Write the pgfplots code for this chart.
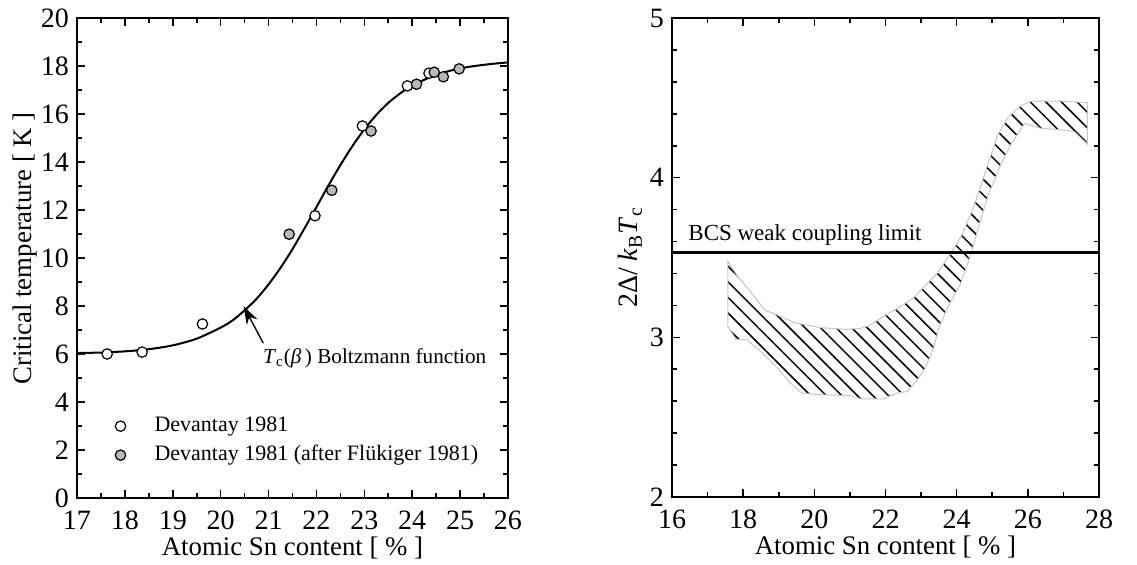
\documentclass[border=0pt]{standalone}
\usepackage{fontspec}
\setmainfont{Liberation Serif}
\usepackage{pgfplots}
\pgfplotsset{compat=1.18}
\usetikzlibrary{patterns.meta, arrows.meta}
\definecolor{mgray}{RGB}{185,185,185}
\begin{document}
\begin{tikzpicture}
\useasboundingbox (-38.5pt,-33.5pt) rectangle (530pt,249pt);
\pgfplotsset{
  myaxis/.style={
    scale only axis,
    tick align=inside,
    major tick length=4pt, minor tick length=2.5pt,
    axis line style={line width=1pt},
    every tick/.style={line width=0.8pt, black},
    /pgf/number format/assume math mode=true,
    tick label style={font=\fontsize{14}{16}\selectfont},
    xticklabel style={yshift=-2.8pt},
    yticklabel style={xshift=-0.5pt},
    label style={font=\fontsize{13.4}{15}\selectfont},
    xlabel style={at={(axis description cs:0.5,-0.104)}, anchor=center},
  }
}
% ---------------- left panel ----------------
\begin{axis}[myaxis,
  at={(0pt,0pt)}, anchor=south west,
  width=215.5pt, height=240pt,
  xmin=17, xmax=26, ymin=0, ymax=20,
  xtick={17,18,...,26}, minor x tick num=1,
  ytick={0,2,...,20}, minor y tick num=1,
  xlabel={Atomic Sn content [ \% ]},
  ylabel={Critical temperature [ K ]},
  ylabel style={at={(axis description cs:-0.12,0.52)}, anchor=center},
  legend style={draw=none, fill=none, at={(axis cs:17.65,3.78)}, anchor=north west,
    font=\fontsize{11}{13}\selectfont,
    nodes={text height=8pt, text depth=2.5pt, inner sep=2pt}},
  legend cell align=left,
  legend image code/.code={\path[draw=none, fill=none] (-3pt,0pt) rectangle (15pt,0pt); \draw[#1] plot coordinates {(0pt,0pt)};},
]
\addplot[black, line width=1pt, smooth, forget plot] coordinates {
(17.0,6.04) (17.5,6.06) (18.0,6.11) (18.5,6.20) (19.0,6.36) (19.5,6.64)
(20.0,7.10) (20.25,7.40) (20.5,7.82) (20.75,8.30) (21.0,8.90) (21.25,9.59)
(21.5,10.37) (21.75,11.23) (22.0,12.12) (22.25,13.02) (22.5,13.87) (22.75,14.66)
(23.0,15.36) (23.25,15.96) (23.5,16.46) (23.75,16.86) (24.0,17.19) (24.5,17.63)
(25.0,17.90) (25.5,18.05) (26.0,18.15)
};
\addplot[only marks, mark=*, mark size=2.6pt, mark options={draw=black, fill=white, line width=0.6pt}] coordinates {
(17.63,6.0) (18.36,6.08) (19.62,7.25) (21.97,11.76) (22.96,15.5) (23.9,17.17) (24.35,17.7)
};
\addlegendentry{Devantay 1981}
\addplot[only marks, mark=*, mark size=2.6pt, mark options={draw=black, fill=mgray, line width=0.6pt}] coordinates {
(21.43,10.99) (22.32,12.82) (23.14,15.29) (24.09,17.24) (24.46,17.74) (24.65,17.55) (24.98,17.88)
};
\addlegendentry{Devantay 1981 (after Flükiger 1981)}
\draw[-{Stealth[length=9pt,width=6pt]}, line width=0.7pt] (axis cs:20.89,6.45) -- (axis cs:20.48,7.99);
\node[anchor=west, font=\fontsize{10.6}{12}\selectfont, inner sep=0pt] at (axis cs:20.88,5.83)
  {\textit{T}\textsubscript{c}(\textit{β}\,) Boltzmann function};
\end{axis}
% ---------------- right panel ----------------
\begin{axis}[myaxis,
  at={(297.5pt,0.5pt)}, anchor=south west,
  width=213.5pt, height=239.5pt,
  xmin=16, xmax=28, ymin=2, ymax=5,
  xtick={16,18,...,28}, minor x tick num=1,
  ytick={2,3,4,5}, minor y tick num=4,
  xlabel={Atomic Sn content [ \% ]},
  ylabel={2Δ/ \textit{k}\textsubscript{B}\textit{T}\textsubscript{c}},
  ylabel style={at={(axis description cs:-0.098,0.5)}, anchor=center, font=\fontsize{14}{16}\selectfont},
]
\addplot[draw=gray!45, line width=0.5pt, pattern={Lines[angle=-45,distance=5.5pt,line width=0.75pt]}] coordinates {
(17.57,3.475) (17.85,3.38) (18.08,3.32) (18.37,3.24) (18.6,3.17) (18.85,3.15)
(19.47,3.09) (20.2,3.06) (20.9,3.05) (21.3,3.055) (21.6,3.08) (21.93,3.13)
(22.4,3.19) (22.8,3.25) (23.1,3.32) (23.45,3.40) (23.75,3.50) (24.05,3.60)
(24.2,3.67) (24.45,3.80) (24.65,3.93) (24.9,4.10) (25.16,4.27) (25.45,4.38)
(25.8,4.45) (26.1,4.48) (26.9,4.48) (27.67,4.47)
(27.67,4.21) (27.3,4.29) (26.9,4.30) (26.35,4.31) (25.91,4.34) (25.5,4.20)
(25.22,4.07) (24.9,3.90) (24.65,3.72) (24.4,3.52) (24.1,3.33) (23.75,3.19)
(23.5,3.06) (23.35,2.93) (23.1,2.80) (22.85,2.72) (22.6,2.66) (22.3,2.65)
(21.95,2.615) (21.3,2.615) (21.0,2.635) (20.2,2.64) (19.65,2.65) (19.3,2.72)
(19.0,2.80) (18.55,2.90) (18.1,2.985) (17.8,2.985) (17.57,3.07)
} -- cycle;
\addplot[black, line width=1.8pt] coordinates {(16,3.53) (28,3.53)};
\node[anchor=west, font=\fontsize{11.5}{13}\selectfont, inner sep=0pt] at (axis cs:16.45,3.64) {BCS weak coupling limit};
\end{axis}
\end{tikzpicture}
\end{document}
